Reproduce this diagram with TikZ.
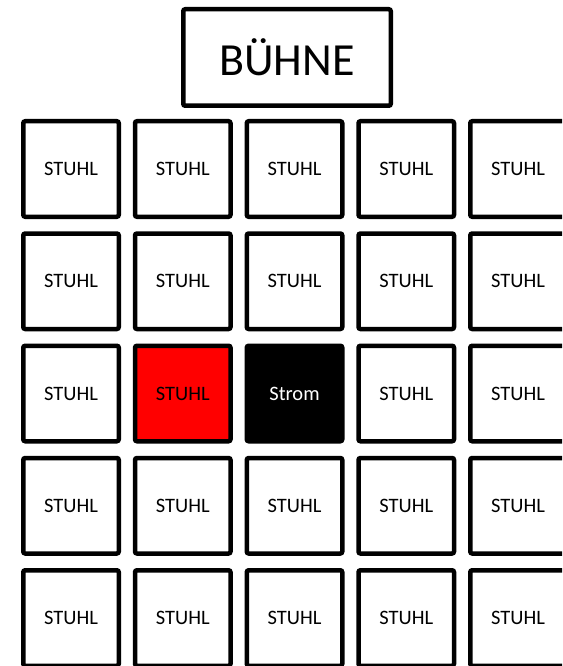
\documentclass[tikz,border=0pt]{standalone}
\usepackage{fontspec}
\setmainfont{Carlito}
\usepackage{tikz}

\begin{document}
\begin{tikzpicture}[x=1pt,y=-1pt]
			\tikzstyle{seat}=[draw,line width=4.5pt,rounded corners=2pt,minimum width=95.5pt,minimum height=95.5pt,inner sep=0pt,font=\fontsize{20.5}{24}\selectfont]
			\tikzstyle{stage}=[draw,line width=4.5pt,rounded corners=2pt,minimum width=207.5pt,minimum height=96.5pt,inner sep=0pt,font=\fontsize{46}{54}\selectfont]
				\useasboundingbox (0,0) rectangle (562,666);
				\clip (0,0) rectangle (562,666);
				\node [stage] (b) at (287,57.5) {BÜHNE};
				% row 1
				\node [seat] (11) at (71,169) {STUHL};
				\node [seat] (12) at (182.75,169) {STUHL};
				\node [seat] (13) at (294.5,169) {STUHL};
				\node [seat] (14) at (406.25,169) {STUHL};
				\node [seat] (15) at (518,169) {STUHL};
				% row 2
				\node [seat] (21) at (71,281.25) {STUHL};
				\node [seat] (22) at (182.75,281.25) {STUHL};
				\node [seat] (23) at (294.5,281.25) {STUHL};
				\node [seat] (24) at (406.25,281.25) {STUHL};
				\node [seat] (25) at (518,281.25) {STUHL};
				% row 3
				\node [seat] (31) at (71,393.5) {STUHL};
				\node [seat,fill=red] (32) at (182.75,393.5) {STUHL};
				\node [seat,fill=black,text=white] (33) at (294.5,393.5) {Strom};
				\node [seat] (34) at (406.25,393.5) {STUHL};
				\node [seat] (35) at (518,393.5) {STUHL};
				% row 4
				\node [seat] (41) at (71,505.75) {STUHL};
				\node [seat] (42) at (182.75,505.75) {STUHL};
				\node [seat] (43) at (294.5,505.75) {STUHL};
				\node [seat] (44) at (406.25,505.75) {STUHL};
				\node [seat] (45) at (518,505.75) {STUHL};
				% row 5
				\node [seat] (51) at (71,618) {STUHL};
				\node [seat] (52) at (182.75,618) {STUHL};
				\node [seat] (53) at (294.5,618) {STUHL};
				\node [seat] (54) at (406.25,618) {STUHL};
				\node [seat] (55) at (518,618) {STUHL};
	\end{tikzpicture}
\end{document}
